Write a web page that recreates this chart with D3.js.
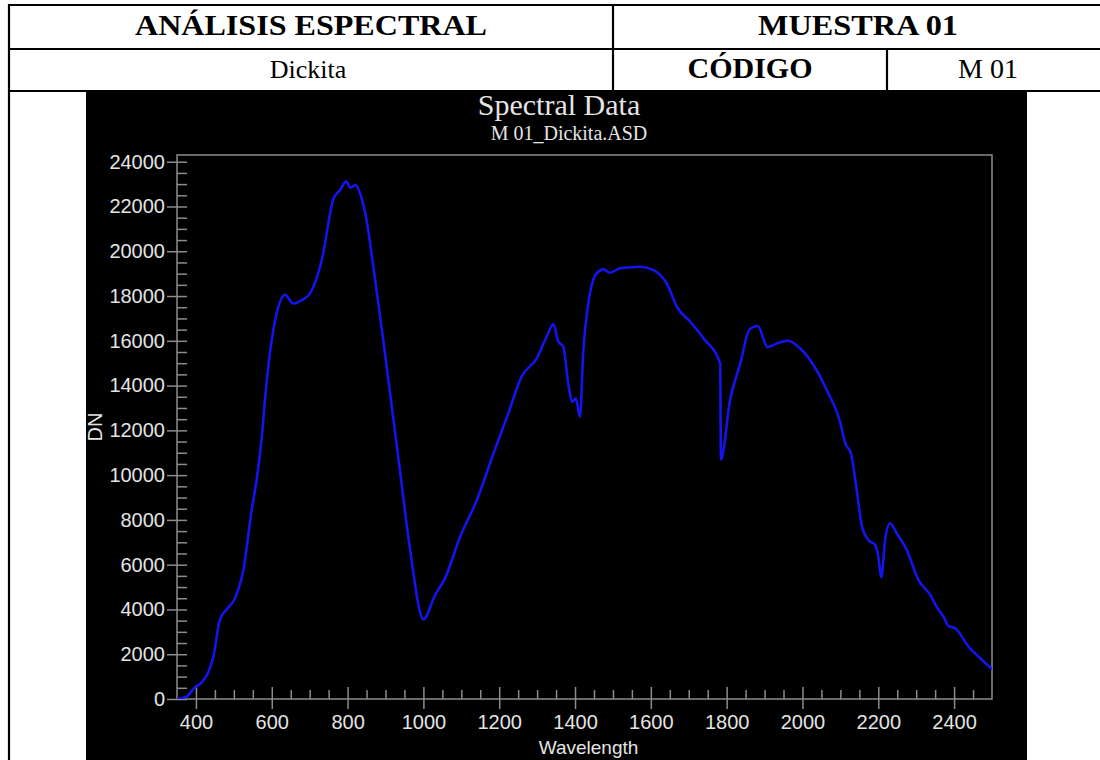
<!DOCTYPE html>
<html>
<head>
<meta charset="utf-8">
<script src="https://cdn.jsdelivr.net/npm/d3@7"></script>
<style>
  html, body { margin: 0; padding: 0; background: #fff; }
  svg { display: block; }
</style>
</head>
<body>
<svg id="chart" width="1100" height="760"></svg>
<script>
// ---- Data ----
const wavelengths = [350,375,397,415,433,446,463,481,503,525,547,560,573,582,595,613,635,657,679,701,732,763,780,796,808,821,833,850,868,894,938,965,1000,1031,1057,1097,1141,1185,1224,1259,1299,1325,1343,1356,1369,1382,1393,1402,1413,1422,1435,1457,1475,1492,1519,1572,1607,1642,1669,1704,1739,1783,1785,1809,1836,1860,1882,1908,1932,1961,1994,2029,2064,2099,2113,2128,2143,2157,2174,2192,2200,2208,2218,2231,2249,2275,2306,2337,2354,2372,2385,2403,2438,2469,2500];
const dnValues = [0,100,520,730,1220,1890,3530,4000,4500,5760,8440,9780,11570,13360,15440,17230,18050,17670,17820,18120,19610,22360,22740,23110,22840,22960,22580,21400,19310,16040,10230,6660,3560,4650,5390,7250,8890,10970,12760,14400,15220,16180,16750,15960,15740,14100,13280,13430,12610,15590,17670,19010,19190,19040,19240,19310,19160,18560,17510,16850,16110,14990,10700,13360,14990,16500,16660,15720,15880,16000,15660,14920,13800,12390,11420,10970,9340,7700,7100,6880,6360,5440,7100,7850,7400,6660,5320,4650,4120,3680,3260,3160,2340,1820,1330];
const xTickValues = [400,600,800,1000,1200,1400,1600,1800,2000,2200,2400];
const yTickValues = [0,2000,4000,6000,8000,10000,12000,14000,16000,18000,20000,22000,24000];
const headerRow1 = ["ANÁLISIS ESPECTRAL", "MUESTRA 01"];
const headerRow2 = ["Dickita", "CÓDIGO", "M 01"];
const chartTitle = "Spectral Data";
const chartSubtitle = "M 01_Dickita.ASD";
const xLabel = "Wavelength";
const yLabel = "DN";

// ---- Drawing ----
const svg = d3.select("#chart");
const serif = "'Liberation Serif','Times New Roman',serif";
const sans = "'Liberation Sans',Arial,sans-serif";

// Black chart background
svg.append("rect").attr("x", 86).attr("y", 91).attr("width", 941).attr("height", 680).attr("fill", "#000");

// Table lines
const tbl = svg.append("g").attr("stroke", "#000").attr("stroke-width", 2.2);
[[8,5,1100,5],[8,49,1100,49],[8,91,1100,91],[9,4,9,760],[613,4,613,91],[887,49,887,91]].forEach(l => {
  tbl.append("line").attr("x1", l[0]).attr("y1", l[1]).attr("x2", l[2]).attr("y2", l[3]);
});

// Table text
svg.append("text").attr("x", 311).attr("y", 35).attr("text-anchor", "middle")
  .attr("font-family", serif).attr("font-weight", "bold").attr("font-size", 30)
  .attr("textLength", 352).attr("lengthAdjust", "spacingAndGlyphs").text(headerRow1[0]);
svg.append("text").attr("x", 858).attr("y", 35).attr("text-anchor", "middle")
  .attr("font-family", serif).attr("font-weight", "bold").attr("font-size", 30)
  .attr("textLength", 200).attr("lengthAdjust", "spacingAndGlyphs").text(headerRow1[1]);
svg.append("text").attr("x", 308).attr("y", 78).attr("text-anchor", "middle")
  .attr("font-family", serif).attr("font-size", 26).text(headerRow2[0]);
svg.append("text").attr("x", 750).attr("y", 78).attr("text-anchor", "middle")
  .attr("font-family", serif).attr("font-weight", "bold").attr("font-size", 30).text(headerRow2[1]);
svg.append("text").attr("x", 988).attr("y", 78).attr("text-anchor", "middle")
  .attr("font-family", serif).attr("font-size", 28).text(headerRow2[2]);

// Scales
const pLeft = 177, pRight = 992, pTop = 155, pBottom = 699;
const x = d3.scaleLinear().domain([350, 2500]).range([pLeft, pRight]);
const y = d3.scaleLinear().domain([0, 24300]).range([pBottom, pTop]);

const axisColor = "#8c8c8c";
const labelColor = "#e4e4e4";

// Chart titles
svg.append("text").attr("x", 559).attr("y", 115).attr("text-anchor", "middle")
  .attr("font-family", serif).attr("font-size", 30).attr("fill", labelColor).text(chartTitle);
svg.append("text").attr("x", 569).attr("y", 140).attr("text-anchor", "middle")
  .attr("font-family", serif).attr("font-size", 20).attr("fill", labelColor).text(chartSubtitle);

// Frame
svg.append("rect").attr("x", pLeft).attr("y", pTop).attr("width", pRight - pLeft).attr("height", pBottom - pTop)
  .attr("fill", "none").attr("stroke", axisColor).attr("stroke-width", 1.5);

// Y minor ticks
const yMinor = d3.range(500, 24001, 500).filter(v => v % 2000 !== 0);
const gYMinor = svg.append("g").attr("transform", `translate(${pLeft},0)`)
  .call(d3.axisRight(y).tickValues(yMinor).tickSize(10).tickFormat(""));
gYMinor.select(".domain").remove();
gYMinor.selectAll("line").attr("stroke", axisColor).attr("stroke-width", 1.5);

// Y major axis
const gY = svg.append("g").attr("transform", `translate(${pLeft},0)`)
  .call(d3.axisLeft(y).tickValues(yTickValues).tickSize(10).tickPadding(2).tickFormat(d3.format("d")));
gY.select(".domain").remove();
gY.selectAll("line").attr("x1", 10).attr("stroke", axisColor).attr("stroke-width", 1.5);
gY.selectAll("text").attr("font-family", sans).attr("font-size", 20).attr("fill", labelColor);

// X minor ticks
const xMinor = d3.range(400, 2500, 50).filter(v => v % 200 !== 0);
const gXMinor = svg.append("g").attr("transform", `translate(0,${pBottom})`)
  .call(d3.axisTop(x).tickValues(xMinor).tickSize(9).tickFormat(""));
gXMinor.select(".domain").remove();
gXMinor.selectAll("line").attr("stroke", axisColor).attr("stroke-width", 1.5);

// X major axis
const gX = svg.append("g").attr("transform", `translate(0,${pBottom})`)
  .call(d3.axisBottom(x).tickValues(xTickValues).tickSize(10).tickPadding(6).tickFormat(d3.format("d")));
gX.select(".domain").remove();
gX.selectAll("line").attr("y1", -12).attr("stroke", axisColor).attr("stroke-width", 1.5);
gX.selectAll("text").attr("font-family", sans).attr("font-size", 20).attr("fill", labelColor);

// Axis titles
svg.append("text").attr("x", (pLeft + pRight) / 2 + 4).attr("y", 754).attr("text-anchor", "middle")
  .attr("font-family", sans).attr("font-size", 19).attr("fill", labelColor).text(xLabel);
svg.append("text").attr("transform", `translate(102,${(pTop + pBottom) / 2}) rotate(-90)`).attr("text-anchor", "middle")
  .attr("font-family", sans).attr("font-size", 20).attr("fill", labelColor).text(yLabel);

// Spectrum line
svg.append("defs").append("clipPath").attr("id", "plotclip")
  .append("rect").attr("x", pLeft).attr("y", pTop).attr("width", pRight - pLeft).attr("height", pBottom - pTop);
const line = d3.line().x((d, i) => x(wavelengths[i])).y(d => y(d)).curve(d3.curveMonotoneX);
svg.append("path").datum(dnValues).attr("clip-path", "url(#plotclip)")
  .attr("d", line).attr("fill", "none").attr("stroke", "#1414f0").attr("stroke-width", 2.6)
  .attr("stroke-linejoin", "round");
</script>
</body>
</html>
